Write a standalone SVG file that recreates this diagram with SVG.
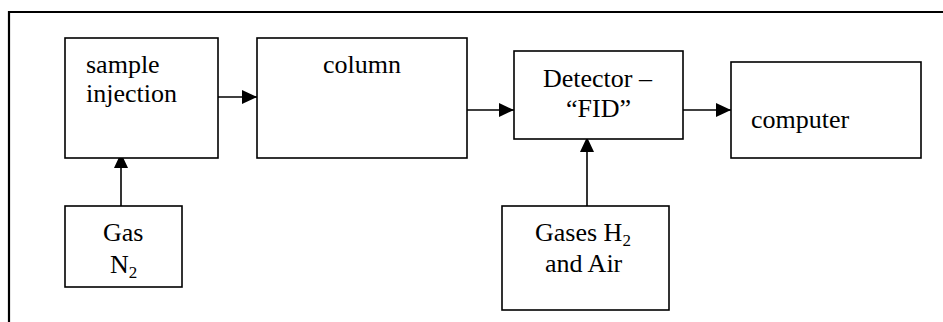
<svg xmlns="http://www.w3.org/2000/svg" width="943" height="322" viewBox="0 0 943 322">
<style>
.box{fill:#fff;stroke:#000;stroke-width:1.6}
.t{font-family:"Liberation Serif","Times New Roman",serif;font-size:26px;fill:#000}
.sub{font-size:17px}
.c{stroke:#000;stroke-width:1.6;fill:none}
</style>
<defs>
<marker id="ah" viewBox="0 0 15 14" refX="15" refY="7" markerWidth="15" markerHeight="14" markerUnits="userSpaceOnUse" orient="auto">
<path d="M0,0 L15,7 L0,14 Z" fill="#000"/>
</marker>
</defs>
<rect width="943" height="322" fill="#fff"/>
<g id="frame">
<path d="M9,322 V12 H943" fill="none" stroke="#000" stroke-width="2.2"/>
</g>
<g id="connectors">
<line class="c" x1="202" y1="97" x2="257" y2="97" marker-end="url(#ah)"/>
<line class="c" x1="467" y1="110" x2="514" y2="110" marker-end="url(#ah)"/>
<line class="c" x1="683" y1="110" x2="731" y2="110" marker-end="url(#ah)"/>
<line class="c" x1="121" y1="206" x2="121" y2="153" marker-end="url(#ah)"/>
<line class="c" x1="587" y1="206" x2="587" y2="137" marker-end="url(#ah)"/>
</g>
<g id="sample">
<rect class="box" x="65" y="38" width="153" height="120"/>
<text class="t" x="86" y="73">sample</text>
<text class="t" x="86" y="102">injection</text>
</g>
<g id="column">
<rect class="box" x="257" y="38" width="210" height="120"/>
<text class="t" x="323" y="73">column</text>
</g>
<g id="detector">
<rect class="box" x="514" y="51" width="169" height="88"/>
<text class="t" x="543" y="87">Detector –</text>
<text class="t" x="566" y="117">“FID”</text>
</g>
<g id="computer">
<rect class="box" x="731" y="62" width="190" height="96"/>
<text class="t" x="751" y="128">computer</text>
</g>
<g id="gasN2">
<rect class="box" x="65" y="206" width="117" height="81"/>
<text class="t" x="103" y="241">Gas</text>
<text class="t" x="110" y="273">N<tspan class="sub" dy="5">2</tspan></text>
</g>
<g id="gasH2">
<rect class="box" x="502" y="206" width="167" height="104"/>
<text class="t" x="535" y="241">Gases H<tspan class="sub" dy="5">2</tspan></text>
<text class="t" x="545" y="272">and Air</text>
</g>
</svg>
